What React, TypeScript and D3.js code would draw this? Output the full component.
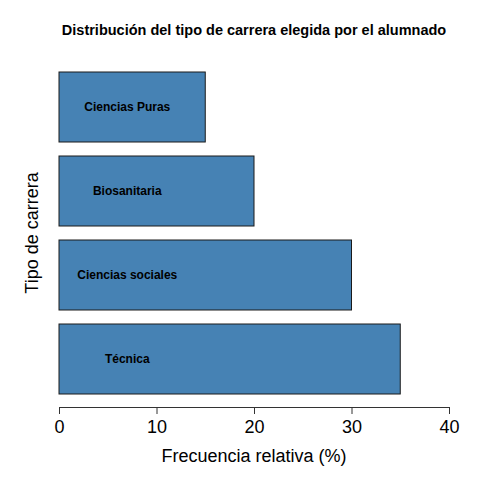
import React, { useRef, useEffect } from 'react';
import * as d3 from 'd3';

// Data
const categories = ['Ciencias Puras', 'Biosanitaria', 'Ciencias sociales', 'Técnica'];
const values = [15, 20, 30, 35];
const xTicks = [0, 10, 20, 30, 40];
const labelPos = 7; // labels sit at x = 7 inside each bar

const FONT = "'Liberation Sans', Arial, Helvetica, sans-serif";

const App: React.FC = () => {
  const svgRef = useRef<SVGSVGElement>(null);
  const width = 480;
  const height = 480;

  useEffect(() => {
    if (!svgRef.current) return;
    const svg = d3.select(svgRef.current);
    svg.selectAll('*').remove();

    const x = d3.scaleLinear().domain([0, 40]).range([59, 449]);
    const y = d3.scaleBand<string>()
      .domain(categories)
      .range([65, 401])
      .paddingInner(1 / 6)
      .paddingOuter(1 / 12);

    const data = categories.map((c, i) => ({ cat: c, value: values[i] }));

    // Bars
    svg.append('g')
      .selectAll('rect')
      .data(data)
      .join('rect')
      .attr('x', x(0))
      .attr('y', d => y(d.cat)!)
      .attr('width', d => x(d.value) - x(0))
      .attr('height', y.bandwidth())
      .attr('fill', '#4682B4')
      .attr('stroke', '#1a1a1a')
      .attr('stroke-width', 1);

    // Labels inside bars
    svg.append('g')
      .selectAll('text')
      .data(data)
      .join('text')
      .attr('x', x(labelPos))
      .attr('y', d => y(d.cat)! + y.bandwidth() / 2)
      .attr('dy', '0.35em')
      .attr('text-anchor', 'middle')
      .attr('font-family', FONT)
      .attr('font-size', '12px')
      .attr('font-weight', 700)
      .attr('fill', '#000')
      .text(d => d.cat);

    // X axis
    const axis = svg.append('g')
      .attr('transform', 'translate(0,407)')
      .call(d3.axisBottom(x).tickValues(xTicks).tickSize(7).tickPadding(6).tickFormat(d3.format('d')));
    axis.select('.domain').attr('stroke', '#333').attr('stroke-width', 1);
    axis.selectAll('.tick line').attr('stroke', '#333');
    axis.selectAll('.tick text')
      .attr('font-family', FONT)
      .attr('font-size', '18px')
      .attr('fill', '#000');

    // Axis titles
    svg.append('text')
      .attr('x', 254)
      .attr('y', 462)
      .attr('text-anchor', 'middle')
      .attr('font-family', FONT)
      .attr('font-size', '18px')
      .attr('fill', '#000')
      .text('Frecuencia relativa (%)');

    svg.append('text')
      .attr('transform', 'rotate(-90)')
      .attr('x', -233)
      .attr('y', 38)
      .attr('text-anchor', 'middle')
      .attr('font-family', FONT)
      .attr('font-size', '18px')
      .attr('fill', '#000')
      .text('Tipo de carrera');

    // Title
    svg.append('text')
      .attr('x', 254)
      .attr('y', 35)
      .attr('text-anchor', 'middle')
      .attr('font-family', FONT)
      .attr('font-size', '14.5px')
      .attr('font-weight', 700)
      .attr('fill', '#000')
      .text('Distribución del tipo de carrera elegida por el alumnado');
  }, []);

  return (
    <svg
      ref={svgRef}
      width={width}
      height={height}
      style={{ position: 'absolute', left: 0, top: 0, background: '#fff' }}
    />
  );
};

export default App;
